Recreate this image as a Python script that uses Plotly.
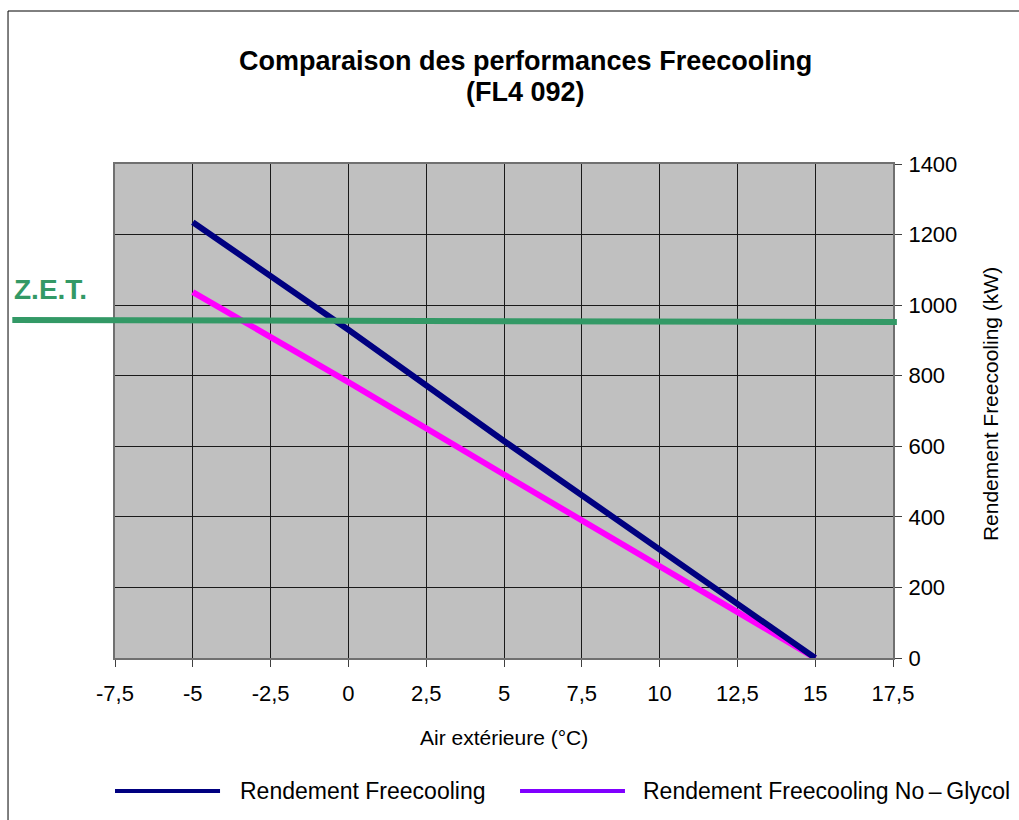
import plotly.graph_objects as go

# Outdoor air temperature (°C) and free-cooling capacity (kW)
temperature = [-5, 0, 5, 10, 15]
rendement = [1235, 930, 615, 308, 0]
rendement_no_glycol = [1037, 782, 520, 261, 0]

series_names = ["Rendement Freecooling", "Rendement Freecooling No\u2009\u2013\u2009Glycol"]
series_colors = ["#000080", "#FF00FF"]
legend_colors = ["#000080", "#8000FF"]

# Z.E.T. reference level (kW), start and end of the horizontal marker
zet_level = [958, 952]

x_ticks = [-7.5, -5, -2.5, 0, 2.5, 5, 7.5, 10, 12.5, 15, 17.5]
x_tick_labels = ["-7,5", "-5", "-2,5", "0", "2,5", "5", "7,5", "10", "12,5", "15", "17,5"]
y_ticks = [0, 200, 400, 600, 800, 1000, 1200, 1400]

FONT = "Arial, Liberation Sans, sans-serif"

fig = go.Figure()
for ys, name, color in zip([rendement, rendement_no_glycol][::-1], series_names[::-1], series_colors[::-1]):
    fig.add_trace(go.Scatter(
        x=temperature, y=ys, mode="lines", name=name,
        line=dict(color=color, width=6), showlegend=False,
    ))

fig.update_layout(
    width=1019, height=820,
    margin=dict(l=115, r=126, t=164, b=162),
    paper_bgcolor="white", plot_bgcolor="#C0C0C0",
    font=dict(family=FONT, color="black"),
    showlegend=False,
)
fig.update_xaxes(
    range=[-7.5, 17.5], tickvals=x_ticks, ticktext=x_tick_labels,
    showgrid=True, gridcolor="#1a1a1a", gridwidth=1,
    showline=True, linecolor="#707070", linewidth=2, mirror=True,
    ticks="outside", ticklen=7, tickcolor="#404040", tickwidth=1,
    tickfont=dict(size=22), ticklabelstandoff=8, zeroline=False,
)
fig.update_yaxes(
    range=[0, 1400], tickvals=y_ticks, side="right",
    showgrid=True, gridcolor="#1a1a1a", gridwidth=1,
    showline=True, linecolor="#707070", linewidth=2, mirror=True,
    ticks="outside", ticklen=7, tickcolor="#404040", tickwidth=1,
    tickfont=dict(size=22), ticklabelstandoff=2, zeroline=False,
)

shapes = [
    # outer chart frame
    dict(type="rect", xref="paper", yref="paper", x0=-0.1375, x1=1.2, y0=-0.36, y1=1.3097,
         line=dict(color="black", width=1), fillcolor="rgba(0,0,0,0)", layer="below"),
    # Z.E.T. level
    dict(type="line", xref="paper", yref="y", x0=-0.132, x1=1.005, y0=zet_level[0], y1=zet_level[1],
         line=dict(color="#339966", width=6)),
]
# legend samples
for x0, x1, c in [(0.0, 0.135, legend_colors[0]), (0.5206, 0.6555, legend_colors[1])]:
    shapes.append(dict(type="line", xref="paper", yref="paper", x0=x0, x1=x1, y0=-0.269, y1=-0.269,
                       line=dict(color=c, width=4)))
fig.update_layout(shapes=shapes)

annotations = [
    dict(text="<b>Comparaison des performances Freecooling</b>", x=0.527, y=1.2085,
         font=dict(size=27)),
    dict(text="<b>(FL4 092)</b>", x=0.527, y=1.1457, font=dict(size=27)),
    dict(text="Air extérieure (°C)", x=0.5, y=-0.16, font=dict(size=21)),
    dict(text="Rendement Freecooling (kW)", x=1.1247, y=0.514, textangle=-90, font=dict(size=21)),
    dict(text="<b>Z.E.T.</b>", x=-0.0823, y=0.745, font=dict(size=28, color="#339966")),
    dict(text=series_names[0], x=0.1581, y=-0.269, xanchor="left", font=dict(size=23)),
    dict(text=series_names[1], x=0.676, y=-0.269, xanchor="left", font=dict(size=23)),
]
for a in annotations:
    a.setdefault("xanchor", "center")
    a.update(xref="paper", yref="paper", yanchor="middle", showarrow=False)
fig.update_layout(annotations=annotations)

fig.write_html("out.html")
